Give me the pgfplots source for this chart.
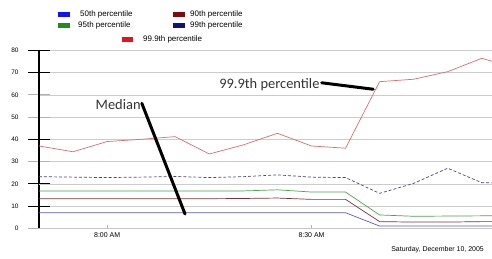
\documentclass[border=0pt]{standalone}
\usepackage{pgfplots}
\pgfplotsset{compat=1.18}
\usepackage{fontspec}
\setmainfont{Liberation Sans}
\newfontfamily\carlito{Carlito}
\definecolor{cfifty}{RGB}{20,20,240}
\definecolor{cninety}{RGB}{130,10,10}
\definecolor{cninetyfive}{RGB}{30,140,30}
\definecolor{cninetynine}{RGB}{20,20,120}
\definecolor{cninetyninenine}{RGB}{230,20,30}
\definecolor{lfifty}{RGB}{90,90,200}
\definecolor{lninety}{RGB}{120,50,60}
\definecolor{lninetyfive}{RGB}{80,160,80}
\definecolor{lninetynine}{RGB}{70,70,130}
\definecolor{lninetyninenine}{RGB}{215,110,110}

\pgfplotstableread{
t  p50  p90  p95  p99  p999
-10 7.0 13.3 16.8 23.2 37.0
-5  7.0 13.3 16.8 23.0 34.4
0   7.0 13.3 16.8 22.8 39.0
5   7.0 13.3 16.8 23.0 40.0
10  7.0 13.3 16.8 23.3 41.2
15  7.0 13.3 16.8 22.8 33.4
20  7.0 13.4 16.8 23.2 37.5
25  7.0 13.6 17.3 24.0 42.7
30  7.0 13.0 16.3 23.0 37.0
35  7.0 13.0 16.3 22.8 36.0
40  1.0 3.0  6.0  15.7 65.9
45  1.0 2.8  5.4  20.2 67.0
50  1.0 2.8  5.5  27.0 70.4
55  1.0 3.0  5.6  20.5 76.4
60  1.0 3.0  5.6  20.2 72.0
}\datatable

\begin{document}
\begin{tikzpicture}
\path[use as bounding box] (0bp,0bp) rectangle (492bp,259bp);
\begin{axis}[
  at={(39bp,30.7bp)}, anchor=south west,
  scale only axis, width=453bp, height=178bp,
  xmin=-10, xmax=56.5, ymin=0, ymax=80,
  axis x line*=bottom, axis y line*=left,
  x axis line style={draw=gray!45, line width=0.6bp},
  y axis line style={draw=black, line width=1.1bp},
  xtick={0,30}, xticklabels={8:00 AM, 8:30 AM},
  xtick style={draw=none},
  x tick label style={font=\fontsize{7}{8}\selectfont, yshift=-1bp},
  ytick={0,30,50,60},
  extra y ticks={10,20,40,70,80},
  extra y tick style={grid=major, ytick style={black, line width=0.9bp}},
  ytick align=center,
  major tick length=22bp,
  ytick style={gray!60, line width=0.8bp},
  y tick label style={font=\fontsize{6.5}{7}\selectfont, xshift=-6bp},
  /pgf/number format/assume math mode=true,
  ymajorgrids,
  grid style={gray!40, line width=0.6bp},
  every axis plot/.append style={line width=0.7bp, no marks},
  clip=true,
]
\addplot[lfifty] table[x=t, y=p50] {\datatable};
\addplot[lninety] table[x=t, y=p90] {\datatable};
\addplot[lninetyfive] table[x=t, y=p95] {\datatable};
\addplot[lninetynine, densely dashed] table[x=t, y=p99] {\datatable};
\addplot[lninetyninenine] table[x=t, y=p999] {\datatable};

\draw[gray!60, line width=0.4bp] (axis cs:0,0) -- ++(0bp,3bp);
\draw[gray!60, line width=0.4bp] (axis cs:30,0) -- ++(0bp,3bp);

\draw[black, line width=3bp, line cap=round] (axis cs:5.09,56.2) -- (axis cs:11.44,6.4);
\draw[black, line width=3bp, line cap=round] (axis cs:31.5,65.4) -- (axis cs:39.06,62.5);
\node[anchor=east, inner sep=0pt, font=\carlito\fontsize{14.5}{16}\selectfont, text=black!80] at (axis cs:4.95,55.4) {Median};
\node[anchor=east, inner sep=0pt, font=\carlito\fontsize{14.5}{16}\selectfont, text=black!80] at (axis cs:31.2,64.6) {99.9th percentile};
\end{axis}

% legend
\begin{scope}[font=\fontsize{8}{9}\selectfont]
\fill[cfifty] (58bp,242.3bp) rectangle (70bp,247.3bp);
\node[anchor=west, inner sep=0pt] at (80bp,244.8bp) {50th percentile};
\fill[cninety] (173bp,242.3bp) rectangle (185bp,247.3bp);
\node[anchor=west, inner sep=0pt] at (190bp,244.8bp) {90th percentile};
\fill[cninetyfive] (58bp,231.2bp) rectangle (70bp,236.2bp);
\node[anchor=west, inner sep=0pt] at (78bp,233.7bp) {95th percentile};
\fill[cninetynine] (173bp,231.2bp) rectangle (185bp,236.2bp);
\node[anchor=west, inner sep=0pt] at (190bp,233.7bp) {99th percentile};
\fill[cninetyninenine] (122bp,217.3bp) rectangle (133bp,222.3bp);
\node[anchor=west, inner sep=0pt] at (143bp,219.8bp) {99.9th percentile};
\end{scope}

\node[anchor=east, inner sep=0pt, font=\fontsize{7}{8}\selectfont] at (484bp,9bp) {Saturday, December 10, 2005};
\end{tikzpicture}
\end{document}
